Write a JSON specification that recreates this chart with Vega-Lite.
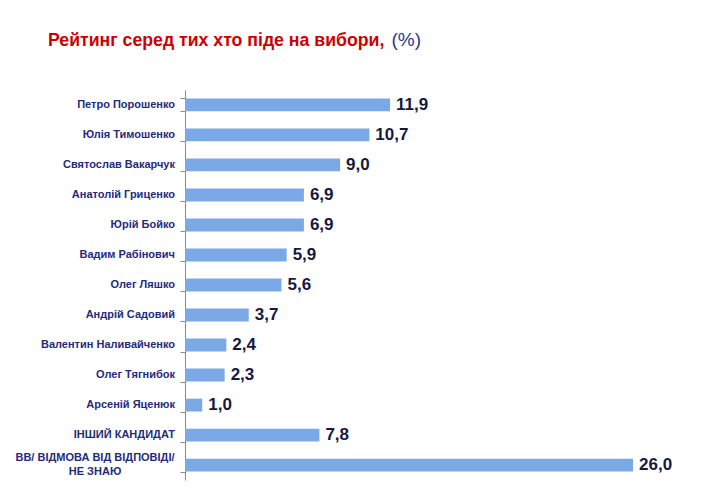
{
  "$schema": "https://vega.github.io/schema/vega-lite/v6.json",
  "width": 448,
  "height": 390,
  "autosize": {"type": "none"},
  "padding": {"left": 185, "top": 90, "right": 87, "bottom": 15},
  "background": "white",
  "config": {
    "locale": {"number": {"decimal": ",", "thousands": " ", "grouping": [3], "currency": ["", ""]}},
    "view": {"stroke": null},
    "font": "Liberation Sans"
  },
  "title": {
    "text": "Рейтинг серед тих хто піде на вибори,",
    "color": "#CC0000",
    "fontSize": 17.7,
    "fontWeight": "bold",
    "font": "Liberation Sans",
    "anchor": "start",
    "frame": "group",
    "dx": -137,
    "offset": -20
  },
  "data": {
    "values": [
      {"name": "Петро Порошенко", "value": 11.9},
      {"name": "Юлія Тимошенко", "value": 10.7},
      {"name": "Святослав Вакарчук", "value": 9.0},
      {"name": "Анатолій Гриценко", "value": 6.9},
      {"name": "Юрій Бойко", "value": 6.9},
      {"name": "Вадим Рабінович", "value": 5.9},
      {"name": "Олег Ляшко", "value": 5.6},
      {"name": "Андрій Садовий", "value": 3.7},
      {"name": "Валентин Наливайченко", "value": 2.4},
      {"name": "Олег Тягнибок", "value": 2.3},
      {"name": "Арсеній Яценюк", "value": 1.0},
      {"name": "ІНШИЙ КАНДИДАТ", "value": 7.8},
      {"name": "ВВ/ ВІДМОВА ВІД ВІДПОВІДІ/\nНЕ ЗНАЮ", "value": 26.0}
    ]
  },
  "encoding": {
    "y": {
      "field": "name",
      "type": "nominal",
      "sort": null,
      "scale": {"paddingInner": 0.57, "paddingOuter": 0.28},
      "axis": {
        "title": null,
        "domainColor": "#8a8a8a",
        "tickColor": "#8a8a8a",
        "tickSize": 5,
        "tickBand": "extent",
        "labels": false
      }
    },
    "x": {
      "field": "value",
      "type": "quantitative",
      "scale": {"domain": [0, 26], "nice": false},
      "axis": {
        "orient": "top",
        "domain": false,
        "ticks": false,
        "labels": false,
        "grid": false,
        "title": "(%)",
        "titleX": 206,
        "titleY": -45,
        "titleAlign": "left",
        "titleBaseline": "alphabetic",
        "titleAngle": 0,
        "titleColor": "#2B3990",
        "titleFont": "Liberation Sans",
        "titleFontSize": 19,
        "titleFontWeight": "normal"
      }
    }
  },
  "layer": [
    {"mark": {"type": "bar", "color": "#7AA9E5"}},
    {
      "mark": {"type": "text", "align": "left", "baseline": "middle", "dx": 6, "fontSize": 17, "fontWeight": "bold", "color": "#15193F", "font": "Liberation Sans"},
      "encoding": {"text": {"field": "value", "type": "quantitative", "format": ".1f"}}
    },
    {
      "transform": [{"filter": "indexof(datum.name, '\\n') < 0"}],
      "mark": {"type": "text", "align": "right", "baseline": "middle", "dx": -10, "fontSize": 11, "fontWeight": "bold", "color": "#1F2B7B", "font": "Liberation Sans"},
      "encoding": {"x": {"datum": 0}, "text": {"field": "name"}}
    },
    {
      "transform": [{"filter": "indexof(datum.name, '\\n') >= 0"}],
      "mark": {"type": "text", "align": "center", "baseline": "middle", "dx": -90, "dy": -7, "lineBreak": "\n", "lineHeight": 14, "fontSize": 11, "fontWeight": "bold", "color": "#1F2B7B", "font": "Liberation Sans"},
      "encoding": {"x": {"datum": 0}, "text": {"field": "name"}}
    }
  ]
}
